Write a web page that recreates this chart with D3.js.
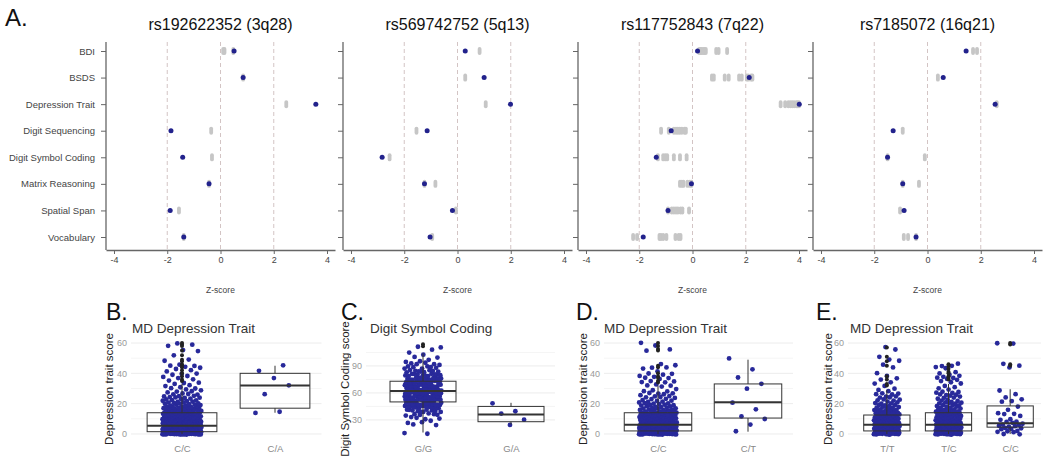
<!DOCTYPE html>
<html><head><meta charset="utf-8">
<script src="https://cdn.jsdelivr.net/npm/d3@7"></script>
<style>body{margin:0;background:#fff} text{font-family:"Liberation Sans",Arial,sans-serif}</style>
</head><body><svg id="c" width="1050" height="460"></svg>
<script>
// ---------- Panel A data ----------
const traits = ["BDI","BSDS","Depression Trait","Digit Sequencing","Digit Symbol Coding","Matrix Reasoning","Spatial Span","Vocabulary"];
const snpTitles = ["rs192622352 (3q28)","rs569742752 (5q13)","rs117752843 (7q22)","rs7185072 (16q21)"];
const zTicks = [-4,-2,0,2,4];
const refLines = [-2,0,2];
const snp1Z = [0.51,0.85,3.58,-1.86,-1.42,-0.43,-1.89,-1.38];
const snp2Z = [0.29,1.0,1.99,-1.14,-2.83,-1.24,-0.19,-1.03];
const snp3Z = [0.19,2.13,4.01,-0.8,-1.36,-0.04,-0.92,-1.85];
const snp4Z = [1.45,0.59,2.54,-1.29,-1.5,-0.93,-0.88,-0.43];
const snp1Grey = [[0.1,0.15,0.48],[0.85],[2.47],[-0.35],[-0.32],[-0.43],[-1.56],[-1.38]];
const snp2Grey = [[0.83],[0.29],[1.06],[-1.54],[-2.55],[-0.83,-1.24],[-0.06],[-0.95]];
const snp3Grey = [[0.25,0.3,0.35,0.4,0.45,0.5,0.89,0.98,1.3],[0.73,0.8,1.21,1.36,1.75,1.85,2.04,2.1,2.2,2.25],[3.31,3.48,3.6,3.68,3.75,3.82,3.9,3.95,4.0],[-1.18,-0.89,-0.7,-0.62,-0.55,-0.48,-0.4,-0.3,-0.25],[-1.3,-1.1,-1.02,-0.95,-0.7,-0.47,-0.22],[-0.47,-0.4,-0.34,-0.19,-0.1,-0.04],[-0.92,-0.78,-0.7,-0.62,-0.55,-0.45,-0.38,-0.13],[-2.23,-2.08,-1.24,-1.18,-1.1,-0.98,-0.64,-0.52,-0.45]];
const snp4Grey = [[1.71,1.86],[0.39],[2.6],[-0.93],[-0.1,-1.5],[-0.32,-0.93],[-1.03],[-0.89,-0.73,-0.43]];

// ---------- Box panel data ----------
const scoreLevels = [0,1,2,3,4,5,6,7,8,9,10,11,12,13,14,15,16,17,18,19,20,21,22,23,24,25,26,27,28,29,30,31,32,33,34,35,36,37,38,39,40,41,42,43,44,45,46,47,48,49,50,51,52,53,54,55,56,57,58,59,60];
const depTicks = [0,20,40,60];
const depMinor = [10,30,50];

const bGenotypes = ["C/C","C/A"];
const bCountsCC = [30,28,26,25,24,22,20,18,17,15, 14,12,11,10,9,8,7,6,6,5, 5,4,4,3,4,3,3,2,2,2, 2,1,2,1,2,1,1,1,2,1, 2,1,1,1,2,2,1,0,1,1, 0,0,1,0,0,2,0,0,1,1,1];
const bValuesCA = [14,15,26,32,37,42,45];
const bQ1 = [1.5,17], bMed = [5.5,32], bQ3 = [14,40], bLo = [0,14], bHi = [33,45];
const bOutliers = [[60,59,58,55,52,49,48,46,45,44,42,40,38,36,35],[]];

const cGenotypes = ["G/G","G/A"];
const cLevels = [16,20,24,28,32,36,40,44,48,52,56,60,64,68,72,76,80,84,88,92,96,100,104,108,112];
const cCountsGG = [2,0,2,3,4,6,10,14,18,22,25,26,25,22,18,15,12,9,7,5,3,2,2,1,2];
const cValuesGA = [49,41,36,30,25];
const cTicks = [30,60,90], cMinor = [45,75,105];
const cQ1 = [50,28], cMed = [62,36], cQ3 = [73,45], cLo = [16,25], cHi = [104,49];
const cOutliers = [[112,114],[]];

const dGenotypes = ["C/C","C/T"];
const dCountsCC = [22,20,19,18,17,16,15,14,12,11, 10,9,8,7,7,6,5,5,4,4, 4,3,3,2,3,2,2,3,2,1, 1,1,2,1,2,2,1,2,2,1, 2,1,0,1,2,1,1,0,0,0, 0,0,0,0,0,1,1,0,1,0,1];
const dValuesCT = [50,43,37,33,30,21,16,11.5,10,6.5,1.5];
const dQ1 = [2,10.5], dMed = [6,21], dQ3 = [14,33], dLo = [0,1.5], dHi = [32,49];
const dOutliers = [[60,58,56,55,45,44,40,38,37,35,34],[]];

const eGenotypes = ["T/T","T/C","C/C"];
const eCountsTT = [12,11,10,10,10,9,9,8,7,7, 6,6,5,5,4,4,4,3,3,3, 3,2,2,2,2,2,2,2,1,1, 1,0,1,1,1,0,1,1,1,0, 1,0,0,0,1,0,1,0,1,1, 0,1,0,0,0,0,1,1,0,0,0];
const eCountsTC = [13,12,11,10,10,9,9,8,7,7, 6,6,5,5,5,4,4,3,3,3, 3,3,2,2,2,2,3,2,2,1, 1,1,1,1,1,1,2,2,2,1, 1,1,0,1,1,2,1,0,0,0, 0,0,0,0,0,0,0,0,0,0,0];
const eValuesCC = [60,60,46,45,44,29,26,24,23,22,21,18,16,14,13,13,12,10,9,8,8,7,7,6,6,5,5,5,4,4,3,3,2,2,1,1,0,0];
const eQ1 = [2,2,4.5], eMed = [6,6,7], eQ3 = [12.5,14,18.5], eLo = [0,0,0], eHi = [29,33,29.5];
const eOutliers = [[57,51,48,45,38,36,33,32],[46,45,43,41,40,38,37,36],[60,59,46,45]];

// ---------- drawing ----------
const svg = d3.select("#c");
const BLUE = "#22228c", GREY = "#c6c6c6";

function expand(levels, counts){ const out=[]; levels.forEach((v,i)=>{ for(let k=0;k<counts[i];k++) out.push(v); }); return out; }

// Panel A
svg.append("text").attr("x",5).attr("y",26).attr("font-size",24).attr("fill","#111").text("A.");
const axX0 = [106,343,578,813];
const panelW = 229;
const allZ = [snp1Z,snp2Z,snp3Z,snp4Z];
const allGrey = [snp1Grey,snp2Grey,snp3Grey,snp4Grey];
const yA = d3.scalePoint().domain(traits).range([51,237]);
snpTitles.forEach((t,p)=>{
  const x = d3.scaleLinear().domain([-4.3,4.3]).range([axX0[p], axX0[p]+panelW]);
  const g = svg.append("g");
  g.selectAll(".ref").data(refLines).join("line")
    .attr("x1",d=>x(d)).attr("x2",d=>x(d)).attr("y1",42).attr("y2",250)
    .attr("stroke","#d3c4c4").attr("stroke-width",1).attr("stroke-dasharray","4,3");
  const xa = g.append("g").attr("transform","translate(0,250)")
    .call(d3.axisBottom(x).tickValues(zTicks).tickSize(4).tickSizeOuter(0).tickFormat(d=>String(d)));
  xa.select(".domain").attr("stroke","#666").attr("stroke-width",1.3);
  xa.selectAll(".tick line").attr("stroke","#666");
  xa.selectAll("text").attr("font-size",9).attr("fill","#444").attr("font-family","Liberation Sans, Arial, sans-serif");
  const ya = g.append("g").attr("transform",`translate(${axX0[p]},0)`)
    .call(d3.axisLeft(yA).tickSize(5).tickPadding(6).tickSizeOuter(0).tickFormat(p===0 ? (d=>d) : (()=>"")));
  ya.select(".domain").remove();
  ya.selectAll(".tick line").attr("stroke","#666");
  ya.selectAll("text").attr("font-size",9.5).attr("fill","#444").attr("font-family","Liberation Sans, Arial, sans-serif");
  g.append("line").attr("x1",axX0[p]).attr("x2",axX0[p]).attr("y1",42).attr("y2",250).attr("stroke","#666").attr("stroke-width",1.3);
  const greyPts = [];
  allGrey[p].forEach((arr,i)=>arr.forEach(z=>greyPts.push({trait:traits[i], z})));
  g.append("g").selectAll("rect").data(greyPts).join("rect")
    .attr("x",d=>x(d.z)-1.9).attr("y",d=>yA(d.trait)-4).attr("width",3.8).attr("height",8)
    .attr("rx",1.9).attr("fill",GREY);
  g.append("g").selectAll("circle").data(allZ[p]).join("circle")
    .attr("cx",d=>x(d)).attr("cy",(d,i)=>yA(traits[i])).attr("r",2.5).attr("fill",BLUE);
  g.append("text").attr("x",(x.range()[0]+x.range()[1])/2).attr("y",30).attr("text-anchor","middle")
    .attr("font-size",16).attr("fill","#111").text(t);
  g.append("text").attr("x",(x.range()[0]+x.range()[1])/2).attr("y",293).attr("text-anchor","middle")
    .attr("font-size",8.5).attr("fill","#444").text("Z-score");
});

// Box panels
function boxPanel(o){
  const x = d3.scalePoint().domain(o.cats).range(o.xr).padding(0.5);
  const step = x.step();
  const y = d3.scaleLinear().domain(o.yd).range([437,343]);
  const g = svg.append("g");
  const gx0 = o.tickRight + 4, gx1 = o.xr[1];
  g.selectAll(".gmin").data(o.minor).join("line").attr("x1",gx0).attr("x2",gx1)
    .attr("y1",d=>y(d)).attr("y2",d=>y(d)).attr("stroke","#f5f5f5");
  g.selectAll(".gmaj").data(o.ticks).join("line").attr("x1",gx0).attr("x2",gx1)
    .attr("y1",d=>y(d)).attr("y2",d=>y(d)).attr("stroke","#ececec");
  const ya = g.append("g").attr("transform",`translate(${o.tickRight},0)`)
    .call(d3.axisLeft(y).tickValues(o.ticks).tickSize(0).tickPadding(0));
  ya.select(".domain").remove();
  ya.selectAll("text").attr("font-size",9).attr("fill","#999").attr("font-family","Liberation Sans, Arial, sans-serif");
  const xa = g.append("g").attr("transform","translate(0,441)")
    .call(d3.axisBottom(x).tickSize(0).tickPadding(4));
  xa.select(".domain").remove();
  xa.selectAll("text").attr("font-size",9.5).attr("fill","#888").attr("font-family","Liberation Sans, Arial, sans-serif");
  o.groups.forEach((vals,gi)=>{
    const cx = x(o.cats[gi]);
    g.append("g").selectAll("circle").data(vals).join("circle")
      .attr("cx",(d,j)=>cx + (((j*0.6180339887)%1)*2-1)*0.21*step)
      .attr("cy",(d,j)=>y(d + (((j*0.7548776662+0.31)%1)*2-1)*o.jh))
      .attr("r",2.4).attr("fill","#28299a");
  });
  o.cats.forEach((c,i)=>{
    const cx = x(c), bw = 0.75*step;
    const bg = g.append("g").attr("stroke","#333").attr("fill","none");
    bg.append("line").attr("x1",cx).attr("x2",cx).attr("y1",y(o.q3[i])).attr("y2",y(o.hi[i])).attr("stroke-width",1);
    bg.append("line").attr("x1",cx).attr("x2",cx).attr("y1",y(o.q1[i])).attr("y2",y(o.lo[i])).attr("stroke-width",1);
    bg.append("rect").attr("x",cx-bw/2).attr("y",y(o.q3[i])).attr("width",bw)
      .attr("height",y(o.q1[i])-y(o.q3[i])).attr("stroke-width",1);
    bg.append("line").attr("x1",cx-bw/2).attr("x2",cx+bw/2).attr("y1",y(o.med[i])).attr("y2",y(o.med[i])).attr("stroke-width",2);
    g.append("g").selectAll("circle").data(o.out[i]).join("circle")
      .attr("cx",cx).attr("cy",d=>y(d)).attr("r",2).attr("fill","#222");
  });
  svg.append("text").attr("x",o.letterX).attr("y",320).attr("font-size",23).attr("fill","#111").text(o.letter);
  svg.append("text").attr("x",o.titleX).attr("y",333).attr("font-size",13.5).attr("fill","#333").text(o.title);
  svg.append("text").attr("transform",`translate(${o.ytX},389) rotate(-90)`).attr("text-anchor","middle")
    .attr("dominant-baseline","central").attr("font-size",11.5).attr("fill","#222").text(o.ytitle);
}

boxPanel({cats:bGenotypes, groups:[expand(scoreLevels,bCountsCC), bValuesCA], yd:[-2,60], ticks:depTicks, minor:depMinor,
  xr:[135.5,321.5], tickRight:127, jh:0.4, q1:bQ1, med:bMed, q3:bQ3, lo:bLo, hi:bHi, out:bOutliers,
  letter:"B.", letterX:106, title:"MD Depression Trait", titleX:132, ytitle:"Depression trait score", ytX:109});
boxPanel({cats:cGenotypes, groups:[expand(cLevels,cCountsGG), cValuesGA], yd:[11,115.5], ticks:cTicks, minor:cMinor,
  xr:[379,555], tickRight:362, jh:1.6, q1:cQ1, med:cMed, q3:cQ3, lo:cLo, hi:cHi, out:cOutliers,
  letter:"C.", letterX:341, title:"Digit Symbol Coding", titleX:370, ytitle:"Digit Symbol Coding score", ytX:345});
boxPanel({cats:dGenotypes, groups:[expand(scoreLevels,dCountsCC), dValuesCT], yd:[-2,60], ticks:depTicks, minor:depMinor,
  xr:[613,793], tickRight:600, jh:0.4, q1:dQ1, med:dMed, q3:dQ3, lo:dLo, hi:dHi, out:dOutliers,
  letter:"D.", letterX:576, title:"MD Depression Trait", titleX:604, ytitle:"Depression trait score", ytX:583});
boxPanel({cats:eGenotypes, groups:[expand(scoreLevels,eCountsTT), expand(scoreLevels,eCountsTC), eValuesCC], yd:[-2,60], ticks:depTicks, minor:depMinor,
  xr:[856,1041], tickRight:844, jh:0.4, q1:eQ1, med:eMed, q3:eQ3, lo:eLo, hi:eHi, out:eOutliers,
  letter:"E.", letterX:816, title:"MD Depression Trait", titleX:850, ytitle:"Depression trait score", ytX:828});
</script></body></html>
